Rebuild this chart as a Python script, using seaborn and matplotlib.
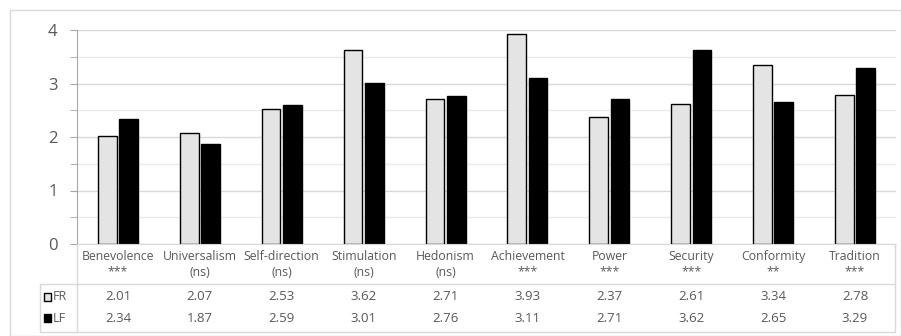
import matplotlib
matplotlib.use('Agg')
import matplotlib.pyplot as plt
import matplotlib.transforms as mtransforms
from matplotlib.patches import Rectangle
from matplotlib.lines import Line2D
import seaborn as sns
import pandas as pd

# values
categories = ['Benevolence', 'Universalism', 'Self-direction', 'Stimulation', 'Hedonism',
              'Achievement', 'Power', 'Security', 'Conformity', 'Tradition']
significance = ['***', '(ns)', '(ns)', '(ns)', '(ns)', '***', '***', '***', '**', '***']
fr_values = [2.01, 2.07, 2.53, 3.62, 2.71, 3.93, 2.37, 2.61, 3.34, 2.78]
lf_values = [2.34, 1.87, 2.59, 3.01, 2.76, 3.11, 2.71, 3.62, 2.65, 3.29]
groups = ['FR', 'LF']
colors = {'FR': '#e4e4e4', 'LF': '#000000'}

df = pd.DataFrame({
    'category': categories * 2,
    'group': ['FR'] * len(categories) + ['LF'] * len(categories),
    'value': fr_values + lf_values,
})

sns.set_style('white')
plt.rcParams['font.family'] = ['Open Sans', 'DejaVu Sans']
text_color = '#595959'
line_color = '#d9d9d9'

W, H = 901, 336
fig = plt.figure(figsize=(W / 100, H / 100), dpi=100)

# axes placed in pixel terms
x0, x1, y_top, y_bot = 77, 896, 30, 244
ax = fig.add_axes([x0 / W, 1 - y_bot / H, (x1 - x0) / W, (y_bot - y_top) / H])

sns.barplot(data=df, x='category', y='value', hue='group', palette=colors,
            edgecolor='black', linewidth=1, width=0.52, gap=0.12,
            legend=False, ax=ax)

ax.set_ylim(0, 4)
ax.set_xlim(-0.5, len(categories) - 0.5)
ax.set_yticks([0, 1, 2, 3, 4])
ax.set_yticks([0.5, 1.5, 2.5, 3.5], minor=True)
ax.yaxis.grid(True, which='major', color=line_color, linewidth=1)
ax.yaxis.grid(True, which='minor', color='#ebebeb', linewidth=1)
ax.set_axisbelow(True)
ax.tick_params(axis='y', which='both', left=True, length=5, color='#a6a6a6',
               labelsize=12, labelcolor=text_color, pad=9)
ax.tick_params(axis='x', bottom=False, length=0, pad=4, labelsize=8.8,
               labelcolor=text_color)
ax.set_xticks(range(len(categories)))
ax.set_xticklabels([f'{c}\n{s}' for c, s in zip(categories, significance)],
                   linespacing=1.3)
ax.set_xlabel('')
ax.set_ylabel('')
for side in ['top', 'right']:
    ax.spines[side].set_visible(False)
ax.spines['left'].set_color('#a6a6a6')
ax.spines['bottom'].set_color(line_color)

# data table below the axis
ah = y_bot - y_top
aw = x1 - x0
def ay(py):
    return -(py - y_bot) / ah
def axx(px):
    return (px - x0) / aw

row_line = ay(284)
tbl_bot = ay(332)
tbl_left = axx(40)
tbl_right = axx(895)
tk = dict(transform=ax.transAxes, color=line_color, linewidth=1, clip_on=False)
ax.add_line(Line2D([tbl_left, tbl_right], [row_line, row_line], **tk))
ax.add_line(Line2D([tbl_left, tbl_right], [tbl_bot, tbl_bot], **tk))
ax.add_line(Line2D([tbl_left, tbl_left], [row_line, tbl_bot], **tk))
ax.add_line(Line2D([0, 0], [0, tbl_bot], **tk))
ax.add_line(Line2D([tbl_right, tbl_right], [0, tbl_bot], **tk))

trans = mtransforms.blended_transform_factory(ax.transData, ax.transAxes)
row_y = [ay(297), ay(318)]
for g, vals, yy in zip(groups, [fr_values, lf_values], row_y):
    for i, v in enumerate(vals):
        ax.text(i, yy, f'{v:.2f}', transform=trans, ha='center', va='center',
                fontsize=9.5, color=text_color, clip_on=False)
    ax.add_patch(Rectangle((axx(44), yy - 0.018), axx(51) - axx(44), 0.036,
                           transform=ax.transAxes, facecolor=colors[g],
                           edgecolor='black', linewidth=1, clip_on=False))
    ax.text(axx(52.5), yy, g, transform=ax.transAxes, ha='left', va='center',
            fontsize=9, color=text_color, clip_on=False)

# outer chart frame
fig.patches.append(Rectangle((10 / W, 0), (W - 10.5) / W, (H - 10) / H,
                             transform=fig.transFigure, fill=False,
                             edgecolor=line_color, linewidth=1))

fig.savefig('out.png', dpi=100)
